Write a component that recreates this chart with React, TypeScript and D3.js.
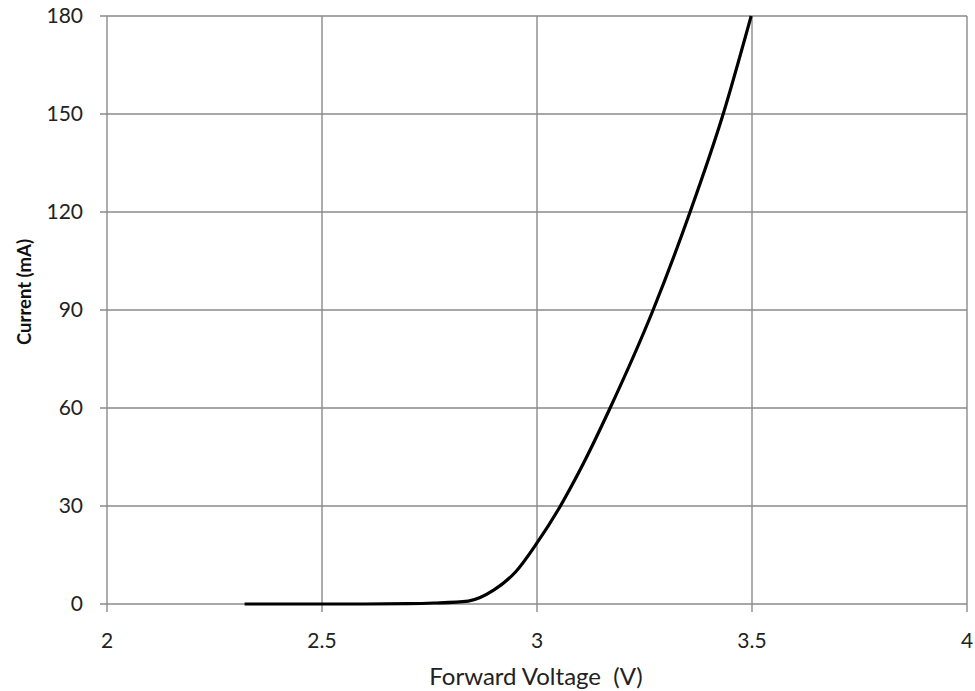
import React, { useEffect, useRef } from 'react';
import * as d3 from 'd3';

// forward voltage (V) and current (mA)
const voltage = [2.32, 2.5, 2.6, 2.7, 2.76, 2.84, 2.9, 2.95, 3.0, 3.05, 3.1, 3.17, 3.27, 3.356, 3.433, 3.498];
const current = [0, 0, 0, 0.1, 0.3, 0.9, 4.3, 9.8, 18.7, 29, 41, 60, 90, 120, 150, 180];

const xTicks = [2, 2.5, 3, 3.5, 4];
const yTicks = [0, 30, 60, 90, 120, 150, 180];

const W = 975;
const H = 691;
const margin = { top: 16, right: 8, bottom: 87, left: 107 };

export default function App() {
  const ref = useRef<SVGSVGElement>(null);

  useEffect(() => {
    const svg = d3.select(ref.current);
    svg.selectAll('*').remove();

    const x = d3.scaleLinear().domain([2, 4]).range([margin.left, W - margin.right]);
    const y = d3.scaleLinear().domain([0, 180]).range([H - margin.bottom, margin.top]);

    svg.append('rect').attr('width', W).attr('height', H).attr('fill', '#fff');

    const grid = '#8a8a8a';
    const font = 'Lato, "Open Sans", sans-serif';

    // horizontal gridlines + left ticks
    svg.append('g')
      .selectAll('line')
      .data(yTicks)
      .enter()
      .append('line')
      .attr('x1', margin.left - 7)
      .attr('x2', W - margin.right)
      .attr('y1', d => y(d))
      .attr('y2', d => y(d))
      .attr('stroke', grid)
      .attr('stroke-width', 1.4);

    // vertical gridlines + bottom ticks
    svg.append('g')
      .selectAll('line')
      .data(xTicks)
      .enter()
      .append('line')
      .attr('x1', d => x(d))
      .attr('x2', d => x(d))
      .attr('y1', margin.top)
      .attr('y2', H - margin.bottom + 8)
      .attr('stroke', grid)
      .attr('stroke-width', 1.4);

    // tick labels
    svg.append('g')
      .selectAll('text')
      .data(yTicks)
      .enter()
      .append('text')
      .attr('x', 83)
      .attr('y', d => y(d) + 7)
      .attr('text-anchor', 'end')
      .attr('font-family', font)
      .attr('font-size', 21)
      .attr('fill', '#222')
      .text(d => d);

    svg.append('g')
      .selectAll('text')
      .data(xTicks)
      .enter()
      .append('text')
      .attr('x', d => x(d))
      .attr('y', 648)
      .attr('text-anchor', 'middle')
      .attr('font-family', font)
      .attr('font-size', 21)
      .attr('fill', '#222')
      .text(d => d);

    // axis titles
    svg.append('text')
      .attr('x', 536)
      .attr('y', 685)
      .attr('text-anchor', 'middle')
      .attr('font-family', font)
      .attr('font-size', 24)
      .attr('fill', '#222')
      .text('Forward Voltage\u00a0 (V)');

    svg.append('text')
      .attr('transform', `translate(31,292) rotate(-90)`)
      .attr('text-anchor', 'middle')
      .attr('font-family', font)
      .attr('font-weight', 'bold')
      .attr('font-size', 18.5)
      .attr('fill', '#111')
      .text('Current (mA)');

    // the curve
    const pts = voltage.map((v, i) => [v, current[i]] as [number, number]);
    const line = d3.line<[number, number]>()
      .x(d => x(d[0]))
      .y(d => y(d[1]))
      .curve(d3.curveMonotoneX);

    svg.append('path')
      .datum(pts)
      .attr('d', line)
      .attr('fill', 'none')
      .attr('stroke', '#000')
      .attr('stroke-width', 3.2)
      .attr('stroke-linejoin', 'round');
  }, []);

  return (
    <svg
      ref={ref}
      width={W}
      height={H}
      style={{ position: 'absolute', left: 0, top: 0 }}
    />
  );
}
